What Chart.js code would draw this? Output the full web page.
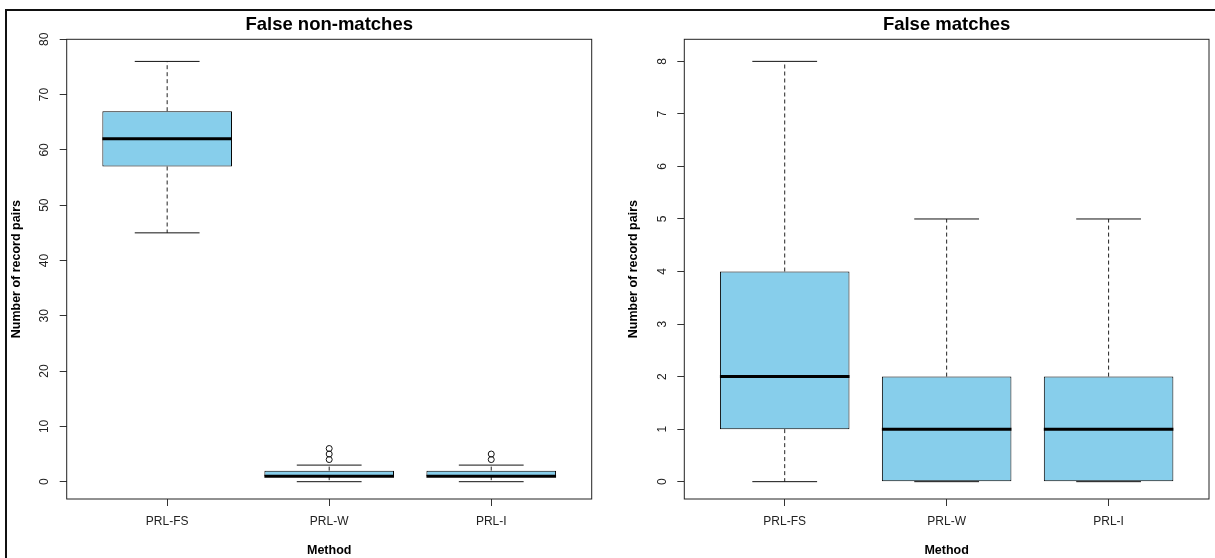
<!DOCTYPE html>
<html>
<head>
<meta charset="utf-8">
<script src="https://cdn.jsdelivr.net/npm/chart.js@4/dist/chart.umd.min.js"></script>
<style>
  html, body { margin: 0; padding: 0; background: #fff; }
  #wrap { position: relative; width: 1215px; height: 558px; overflow: hidden; background: #fff; }
  #wrap canvas { position: absolute; top: 0; }
  #frame { position: absolute; left: 5px; top: 8.5px; right: -10px; bottom: -10px;
           border-top: 2px solid #111; border-left: 2px solid #111; pointer-events: none; }
</style>
</head>
<body>
<div id="wrap">
  <canvas id="fnm" width="607" height="558" style="left:0"></canvas>
  <canvas id="fm" width="608" height="558" style="left:607px"></canvas>
  <div id="frame"></div>
</div>
<script>
// Methods compared
const methods = ['PRL-FS', 'PRL-W', 'PRL-I'];

// False non-matches: box-plot summaries per method
const fnmLower   = [45, 0, 0];
const fnmQ1      = [57, 1, 1];
const fnmMedian  = [62, 1, 1];
const fnmQ3      = [67, 2, 2];
const fnmUpper   = [76, 3, 3];
const fnmOutliers = [[], [4, 5, 6], [4, 5]];
const fnmTicks   = [0, 10, 20, 30, 40, 50, 60, 70, 80];

// False matches: box-plot summaries per method
const fmLower    = [0, 0, 0];
const fmQ1       = [1, 0, 0];
const fmMedian   = [2, 1, 1];
const fmQ3       = [4, 2, 2];
const fmUpper    = [8, 5, 5];
const fmOutliers = [[], [], []];
const fmTicks    = [0, 1, 2, 3, 4, 5, 6, 7, 8];

const FONT = "'Liberation Sans', Arial, Helvetica, sans-serif";
Chart.defaults.font.family = FONT;

// Whiskers, staples, medians, plot frame and rotated y labels
const boxDecor = {
  id: 'boxDecor',
  afterDatasetsDraw(chart, args, opts) {
    const { ctx, scales: { y } } = chart;
    const bars = chart.getDatasetMeta(0).data;
    ctx.save();
    bars.forEach((el, i) => {
      const cx = el.x;
      const half = el.width / 2;
      const staple = el.width / 4;
      const yLo = y.getPixelForValue(opts.lower[i]);
      const yQ1 = y.getPixelForValue(opts.q1[i]);
      const yQ3 = y.getPixelForValue(opts.q3[i]);
      const yHi = y.getPixelForValue(opts.upper[i]);
      const yMed = y.getPixelForValue(opts.median[i]);
      // dashed whiskers
      ctx.strokeStyle = '#222';
      ctx.lineWidth = 1;
      ctx.setLineDash([4, 3]);
      ctx.beginPath();
      ctx.moveTo(cx, yQ3); ctx.lineTo(cx, yHi);
      ctx.moveTo(cx, yQ1); ctx.lineTo(cx, yLo);
      ctx.stroke();
      // staples
      ctx.setLineDash([]);
      ctx.strokeStyle = '#111';
      ctx.beginPath();
      ctx.moveTo(cx - staple, yHi); ctx.lineTo(cx + staple, yHi);
      ctx.moveTo(cx - staple, yLo); ctx.lineTo(cx + staple, yLo);
      ctx.stroke();
      // median
      ctx.strokeStyle = '#000';
      ctx.lineWidth = 3;
      ctx.beginPath();
      ctx.moveTo(cx - half, yMed); ctx.lineTo(cx + half, yMed);
      ctx.stroke();
    });
    ctx.restore();
  },
  afterDraw(chart, args, opts) {
    const { ctx, chartArea: a, scales: { y } } = chart;
    ctx.save();
    ctx.strokeStyle = '#222';
    ctx.lineWidth = 1;
    ctx.strokeRect(a.left, a.top, a.right - a.left, a.bottom - a.top);
    ctx.fillStyle = '#222';
    ctx.font = '12px ' + FONT;
    ctx.textAlign = 'center';
    ctx.textBaseline = 'middle';
    y.ticks.forEach(t => {
      ctx.save();
      ctx.translate(a.left - 22, y.getPixelForValue(t.value));
      ctx.rotate(-Math.PI / 2);
      ctx.fillText(String(t.value), 0, 0);
      ctx.restore();
    });
    ctx.restore();
  }
};

function makeBoxChart(canvasId, cfg) {
  const boxData = methods.map((m, i) => ({ x: i + 1, y: [cfg.q1[i], cfg.q3[i]] }));
  const outlierData = [];
  cfg.outliers.forEach((list, i) => list.forEach(v => outlierData.push({ x: i + 1, y: v })));

  return new Chart(document.getElementById(canvasId), {
    type: 'bar',
    data: {
      datasets: [
        {
          type: 'bar',
          data: boxData,
          backgroundColor: '#87CEEB',
          borderColor: '#000',
          borderWidth: 1,
          borderSkipped: false,
          categoryPercentage: 1,
          barPercentage: 0.8,
          grouped: false
        },
        {
          type: 'scatter',
          data: outlierData,
          pointRadius: 3,
          pointBackgroundColor: 'rgba(0,0,0,0)',
          pointBorderColor: '#111',
          pointBorderWidth: 1,
          showLine: false
        }
      ]
    },
    options: {
      responsive: false,
      animation: false,
      events: [],
      layout: { padding: { left: cfg.padLeft, right: cfg.padRight, top: 0, bottom: 0 } },
      plugins: {
        legend: { display: false },
        tooltip: { enabled: false },
        title: {
          display: true,
          text: cfg.title,
          fullSize: false,
          color: '#000',
          font: { size: 18.5, weight: 'bold', family: FONT },
          padding: { top: 13.4, bottom: 3.7 }
        },
        boxDecor: {
          lower: cfg.lower, q1: cfg.q1, median: cfg.median, q3: cfg.q3, upper: cfg.upper
        }
      },
      scales: {
        x: {
          type: 'linear',
          min: 0.38,
          max: 3.62,
          offset: false,
          afterBuildTicks: s => { s.ticks = methods.map((m, i) => ({ value: i + 1 })); },
          afterFit: s => { s.height = 59; },
          ticks: {
            callback: v => methods[v - 1],
            color: '#222',
            font: { size: 12, family: FONT },
            padding: 8,
            maxRotation: 0,
            autoSkip: false
          },
          grid: { display: true, drawOnChartArea: false, drawTicks: true, tickLength: 7, color: '#333', offset: false },
          border: { display: false },
          title: {
            display: true,
            text: 'Method',
            color: '#000',
            font: { size: 12.5, weight: 'bold', family: FONT },
            padding: { top: 0, bottom: 0 }
          }
        },
        y: {
          type: 'linear',
          min: cfg.yMin,
          max: cfg.yMax,
          afterBuildTicks: s => { s.ticks = cfg.ticks.map(v => ({ value: v })); },
          afterFit: s => { s.width = cfg.yWidth; },
          ticks: { display: false },
          grid: { display: true, drawOnChartArea: false, drawTicks: true, tickLength: 7, color: '#333' },
          border: { display: false },
          title: {
            display: true,
            text: 'Number of record pairs',
            color: '#000',
            font: { size: 12.5, weight: 'bold', family: FONT },
            padding: { top: 8.8, bottom: 0 }
          }
        }
      }
    },
    plugins: [boxDecor]
  });
}

makeBoxChart('fnm', {
  title: 'False non-matches',
  lower: fnmLower, q1: fnmQ1, median: fnmMedian, q3: fnmQ3, upper: fnmUpper,
  outliers: fnmOutliers, ticks: fnmTicks,
  yMin: -3.13, yMax: 80,
  padLeft: 0, padRight: 15.3, yWidth: 66.7
});

makeBoxChart('fm', {
  title: 'False matches',
  lower: fmLower, q1: fmQ1, median: fmMedian, q3: fmQ3, upper: fmUpper,
  outliers: fmOutliers, ticks: fmTicks,
  yMin: -0.33, yMax: 8.42,
  padLeft: 10, padRight: 6, yWidth: 67.3
});
</script>
</body>
</html>
